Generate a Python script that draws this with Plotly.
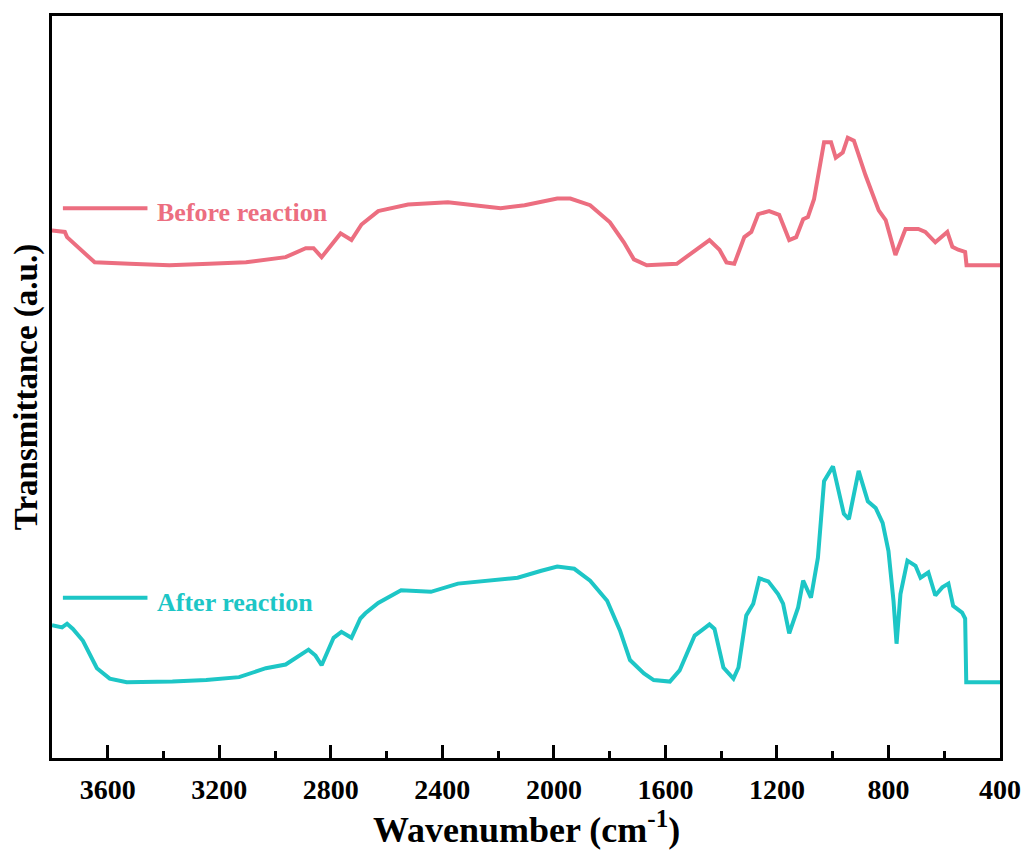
import plotly.graph_objects as go

# Wavenumbers (cm-1) and transmittance (a.u.)
before_wn = [3800, 3754, 3746, 3700, 3647, 3522, 3379, 3236, 3104, 2962, 2890, 2862, 2833,
             2765, 2726, 2690, 2630, 2619, 2523, 2380, 2191, 2105, 1988, 1941, 1870, 1799,
             1749, 1713, 1667, 1559, 1513, 1488, 1442, 1406, 1381, 1353, 1317, 1292, 1267,
             1228, 1192, 1156, 1131, 1106, 1089, 1067, 1031, 1006, 989, 964, 946, 924, 882,
             835, 810, 775, 739, 693, 668, 632, 589, 571, 550, 525, 520, 400]
before_t = [71.1, 70.9, 70.2, 68.6, 66.8, 66.6, 66.4, 66.6, 66.8, 67.5, 68.7, 68.7, 67.5,
            70.7, 69.8, 71.9, 73.7, 73.8, 74.6, 74.9, 74.1, 74.5, 75.4, 75.4, 74.5, 72.2,
            69.5, 67.2, 66.4, 66.6, 67.9, 68.6, 69.8, 68.5, 66.8, 66.6, 70.2, 70.9, 73.3,
            73.7, 73.2, 69.8, 70.2, 72.6, 72.9, 75.3, 83.0, 83.0, 80.9, 81.6, 83.6, 83.2, 78.5,
            73.8, 72.5, 67.8, 71.3, 71.3, 70.9, 69.5, 70.9, 68.9, 68.5, 68.2, 66.4, 66.4]

after_wn = [3800, 3764, 3746, 3725, 3689, 3639, 3593, 3532, 3368, 3247, 3129, 3033, 2962,
            2915, 2880, 2855, 2833, 2790, 2762, 2726, 2694, 2676, 2630, 2548, 2441, 2344,
            2227, 2130, 2048, 1988, 1927, 1870, 1809, 1763, 1727, 1677, 1642, 1584, 1549,
            1513, 1495, 1470, 1442, 1424, 1392, 1356, 1338, 1310, 1285, 1263, 1231, 1196,
            1178, 1156, 1124, 1106, 1078, 1053, 1031, 999, 978, 960, 942, 907, 874, 846, 821,
            800, 782, 771, 757, 732, 703, 685, 657, 632, 607, 585, 568, 536, 525, 521, 400]
after_t = [17.9, 17.6, 18.1, 17.4, 15.8, 12.1, 10.7, 10.2, 10.3, 10.5, 10.9, 12.1, 12.6,
           13.8, 14.6, 13.8, 12.5, 16.2, 17.0, 16.2, 18.8, 19.5, 20.9, 22.6, 22.4, 23.5,
           23.9, 24.3, 25.2, 25.8, 25.5, 23.9, 21.2, 17.2, 13.2, 11.4, 10.5, 10.3, 11.8,
           14.9, 16.5, 17.2, 18.0, 17.4, 12.2, 10.7, 12.2, 19.2, 20.8, 24.2, 23.8, 22.1,
           20.8, 16.8, 20.3, 23.9, 21.6, 27.0, 37.3, 39.3, 36.0, 32.9, 32.2, 38.7, 34.6, 33.7, 31.7,
           27.9, 21.2, 15.4, 22.1, 26.6, 25.9, 24.3, 25.0, 21.9, 23.0, 23.5, 20.5, 19.6, 18.8, 10.2, 10.2]

series_names = ["Before reaction", "After reaction"]
colors = ["#EC6E80", "#1DC6C6"]
tick_vals = [3600, 3200, 2800, 2400, 2000, 1600, 1200, 800, 400]
tick_text = ["<b>%d</b>" % v for v in tick_vals]

FONT = "Liberation Serif"

fig = go.Figure()
fig.add_trace(go.Scatter(x=before_wn, y=before_t, mode="lines", name=series_names[0],
                         line=dict(color=colors[0], width=4), showlegend=False))
fig.add_trace(go.Scatter(x=after_wn, y=after_t, mode="lines", name=series_names[1],
                         line=dict(color=colors[1], width=4), showlegend=False))

# Legend-like labels
legend_pos = [(0.741, 0.7356), (0.216, 0.2094)]
for (ly, ty), name, c in zip(legend_pos, series_names, colors):
    fig.add_shape(type="line", xref="paper", yref="paper", x0=0.0115, x1=0.1007, y0=ly, y1=ly,
                  line=dict(color=c, width=4))
    fig.add_annotation(xref="paper", yref="paper", x=0.109, y=ty, xanchor="left", yanchor="middle",
                       text="<b>%s</b>" % name, showarrow=False,
                       font=dict(family=FONT, size=26, color=c))

# X-axis title placed as an annotation for exact vertical position
fig.add_annotation(xref="paper", yref="paper", x=0.5, y=-0.094, xanchor="center", yanchor="middle",
                   text="<b>Wavenumber (cm<sup>-1</sup>)</b>", showarrow=False,
                   font=dict(family=FONT, size=36, color="black"))

fig.update_xaxes(range=[3800, 400], tickmode="array", tickvals=tick_vals, ticktext=tick_text,
                 ticks="inside", ticklen=13, tickwidth=3, tickcolor="black", ticklabelstandoff=4,
                 minor=dict(dtick=200, ticks="inside", ticklen=7, tickwidth=3, tickcolor="black", showgrid=False),
                 showline=True, linewidth=3, linecolor="black", mirror=True,
                 showgrid=False, zeroline=False,
                 tickfont=dict(family=FONT, size=28, color="black"))
fig.update_yaxes(range=[0, 100], showticklabels=False, ticks="",
                 showline=True, linewidth=3, linecolor="black", mirror=True,
                 showgrid=False, zeroline=False,
                 title=dict(text="<b>Transmittance (a.u.)</b>",
                            font=dict(family=FONT, size=33, color="black"), standoff=6))

fig.update_layout(width=1018, height=844, plot_bgcolor="white", paper_bgcolor="white",
                  margin=dict(l=44, r=21, t=5, b=94), showlegend=False)

fig.write_html("out.html")
